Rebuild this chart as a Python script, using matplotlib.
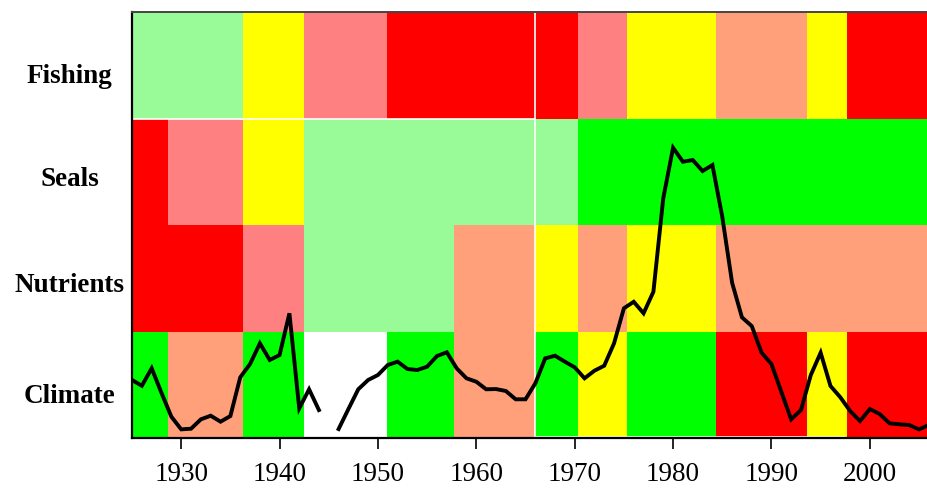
import numpy as np
import matplotlib
matplotlib.use('Agg')
import matplotlib.pyplot as plt

# rows, bottom to top
rows = ['Climate', 'Nutrients', 'Seals', 'Fishing']

PG, YE, PK, RE, LS, GR, WH = '#98FB98', '#FFFF00', '#FF8080', '#FF0000', '#FFA07A', '#00FF00', '#FFFFFF'

start_year = 1925
end_year = 2006

# block edges (years) and colours for each row
fishing_breaks = [1936.3, 1942.5, 1950.9, 1970.3, 1975.3, 1984.4, 1993.6, 1997.7]
fishing_cols = [PG, YE, PK, RE, PK, YE, LS, YE, RE]

seals_breaks = [1928.7, 1936.3, 1942.5, 1970.3]
seals_cols = [RE, PK, YE, PG, GR]

nutrients_breaks = [1936.3, 1942.5, 1957.7, 1966.0, 1970.3, 1975.3, 1984.4]
nutrients_cols = [RE, PK, PG, LS, YE, LS, YE, LS]

climate_breaks = [1928.7, 1936.3, 1942.5, 1950.9, 1957.7, 1966.0, 1970.3, 1975.3,
                  1984.4, 1993.6, 1997.7]
climate_cols = [GR, LS, GR, WH, GR, LS, GR, YE, GR, RE, YE, RE]

# overlaid index (in row units), 1925-2006, 1945 missing
line_years = np.arange(1925, 2007)
line_vals = [0.547, 0.493, 0.657, 0.425, 0.203, 0.084, 0.090, 0.178, 0.212, 0.156,
             0.209, 0.572, 0.697, 0.891, 0.735, 0.781, 1.173, 0.281, 0.460, 0.265,
             np.nan, 0.087, 0.275, 0.460, 0.547, 0.594, 0.688, 0.719, 0.650, 0.641,
             0.672, 0.772, 0.807, 0.657, 0.563, 0.531, 0.460, 0.462, 0.444, 0.366,
             0.366, 0.516, 0.750, 0.775, 0.719, 0.666, 0.563, 0.634, 0.681, 0.891,
             1.220, 1.281, 1.173, 1.375, 2.251, 2.726, 2.595, 2.611, 2.508, 2.564,
             2.079, 1.460, 1.135, 1.053, 0.803, 0.697, 0.437, 0.178, 0.265, 0.594,
             0.803, 0.491, 0.385, 0.256, 0.162, 0.275, 0.228, 0.141, 0.131, 0.125,
             0.084, 0.125]

xticks = [1930, 1940, 1950, 1960, 1970, 1980, 1990, 2000]

plt.rcParams['font.family'] = ['Liberation Serif', 'DejaVu Serif']

fig = plt.figure(figsize=(9.27, 4.90), dpi=100)
ax = fig.add_axes([0.1424, 0.1055, 0.8596, 0.8700])

row_data = [(climate_breaks, climate_cols), (nutrients_breaks, nutrients_cols),
            (seals_breaks, seals_cols), (fishing_breaks, fishing_cols)]
for i, (breaks, cols) in enumerate(row_data):
    edges = [start_year] + breaks + [end_year + 1]
    lefts = np.array(edges[:-1])
    widths = np.diff(edges)
    ax.barh(i + 0.5, widths, left=lefts, height=1.0, color=cols, linewidth=0)

# thin white seams of the two image halves
ax.hlines(3, start_year, 1966.0, color='white', lw=1.2)
ax.axvline(1966.0, color='white', lw=1.2)
ax.hlines(0.015, 1966.0, 1997.5, color='white', lw=1.2)

ax.plot(line_years, line_vals, color='black', lw=2.8, solid_joinstyle='miter')

ax.set_xlim(start_year, end_year)
ax.set_ylim(0, 4)

ax.set_xticks(xticks)
ax.set_xticklabels([str(t) for t in xticks], fontsize=19.5)
ax.tick_params(axis='x', length=8, width=1.2, pad=9, direction='out')

ax.set_yticks([0.42, 1.46, 2.46, 3.42])
ax.set_yticklabels(rows, fontsize=19.5, fontweight='bold', ha='center')
ax.tick_params(axis='y', length=0, pad=45)

for s in ['left', 'bottom']:
    ax.spines[s].set_linewidth(1.6)
    ax.spines[s].set_color('black')
ax.spines['top'].set_color('#444444')
ax.spines['top'].set_linewidth(1.4)
ax.spines['right'].set_visible(False)

fig.savefig('out.png', dpi=100)
